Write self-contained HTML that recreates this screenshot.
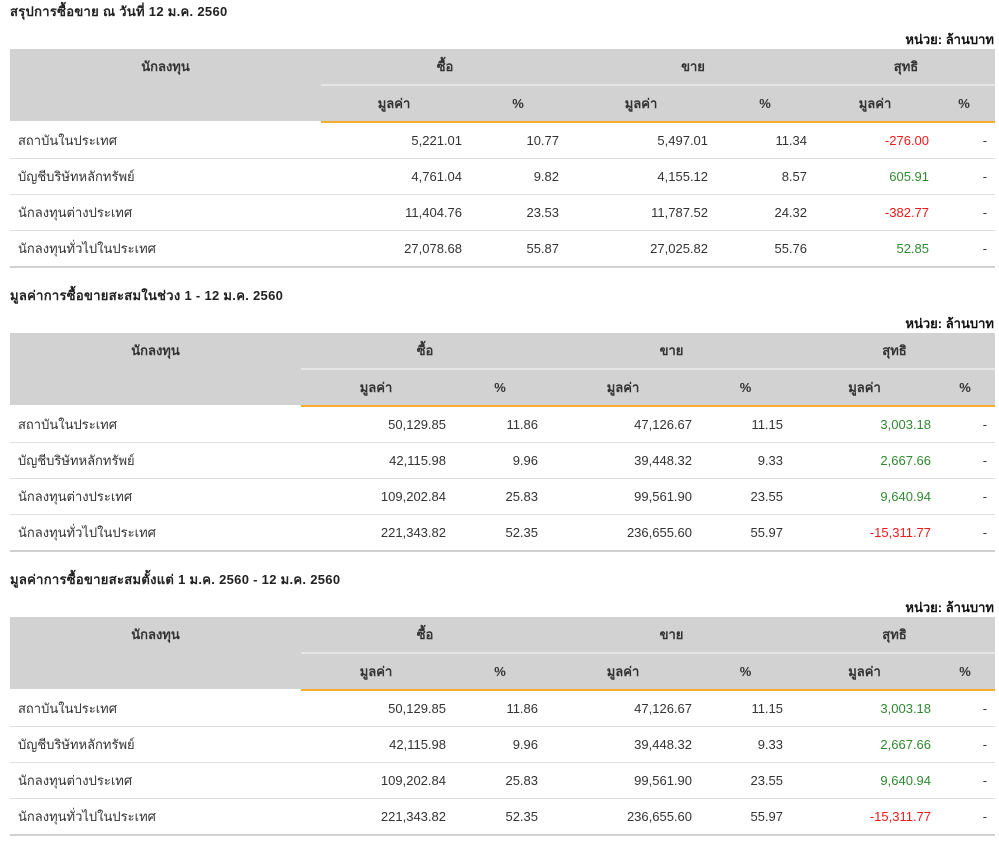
<!DOCTYPE html>
<html>
<head>
<meta charset="utf-8">
<style>
  html, body { margin:0; padding:0; background:#fff; }
  body { width:999px; height:845px; position:relative; overflow:hidden;
         font-family:"Liberation Sans","DejaVu Sans",sans-serif; font-size:13px; color:#333; }
  .sec { position:absolute; left:0; width:999px; height:284px; }
  .title { position:absolute; left:10px; top:3px; line-height:18px; font-weight:bold; font-size:13px; color:#222; letter-spacing:0.3px; }
  .unit { position:absolute; right:5px; top:31px; line-height:18px; font-weight:bold; font-size:13px; color:#111; }
  table { position:absolute; left:10px; top:49px; border-collapse:separate; border-spacing:0; table-layout:fixed; width:985px; }
  th, td { padding:0; margin:0; white-space:nowrap; overflow:hidden; }
  th { background:#d2d2d2; font-weight:bold; text-align:center; line-height:35px; color:#333; }
  th.inv { vertical-align:top; border-bottom:2px solid #fff; }
  tr.h2 th { border-top:2px solid #e6e6e6; border-bottom:2px solid #f6ad2b; }
  td { line-height:35px; border-bottom:1px solid #dedede; text-align:right; color:#333; }
  tr.last td { border-bottom:2px solid #d0d0d0; }
  td.name { text-align:left; padding-left:8px; }
  td.v { padding-right:5px; }
  td.p { padding-right:10px; }
  td.n { padding-right:4px; }
  td.d { padding-right:8px; }
  .t2 td.p { padding-right:11px; }
  .neg { color:#f01818; }
  .pos { color:#2f8a2f; }
</style>
</head>
<body>

<div class="sec" style="top:0px;">
  <div class="title">สรุปการซื้อขาย ณ วันที่ 12 ม.ค. 2560</div>
  <div class="unit">หน่วย: ล้านบาท</div>
  <table>
    <colgroup>
      <col style="width:311px"><col style="width:146px"><col style="width:102px"><col style="width:144px"><col style="width:104px"><col style="width:116px"><col style="width:62px">
    </colgroup>
    <tr><th class="inv" rowspan="2">นักลงทุน</th><th colspan="2">ซื้อ</th><th colspan="2">ขาย</th><th colspan="2">สุทธิ</th></tr>
    <tr class="h2"><th>มูลค่า</th><th>%</th><th>มูลค่า</th><th>%</th><th>มูลค่า</th><th>%</th></tr>
    <tr><td class="name">สถาบันในประเทศ</td><td class="v">5,221.01</td><td class="p">10.77</td><td class="v">5,497.01</td><td class="p">11.34</td><td class="n neg">-276.00</td><td class="d">-</td></tr>
    <tr><td class="name">บัญชีบริษัทหลักทรัพย์</td><td class="v">4,761.04</td><td class="p">9.82</td><td class="v">4,155.12</td><td class="p">8.57</td><td class="n pos">605.91</td><td class="d">-</td></tr>
    <tr><td class="name">นักลงทุนต่างประเทศ</td><td class="v">11,404.76</td><td class="p">23.53</td><td class="v">11,787.52</td><td class="p">24.32</td><td class="n neg">-382.77</td><td class="d">-</td></tr>
    <tr class="last"><td class="name">นักลงทุนทั่วไปในประเทศ</td><td class="v">27,078.68</td><td class="p">55.87</td><td class="v">27,025.82</td><td class="p">55.76</td><td class="n pos">52.85</td><td class="d">-</td></tr>
  </table>
</div>

<div class="sec" style="top:284px;">
  <div class="title">มูลค่าการซื้อขายสะสมในช่วง 1 - 12 ม.ค. 2560</div>
  <div class="unit">หน่วย: ล้านบาท</div>
  <table class="t2">
    <colgroup>
      <col style="width:291px"><col style="width:150px"><col style="width:98px"><col style="width:148px"><col style="width:97px"><col style="width:141px"><col style="width:60px">
    </colgroup>
    <tr><th class="inv" rowspan="2">นักลงทุน</th><th colspan="2">ซื้อ</th><th colspan="2">ขาย</th><th colspan="2">สุทธิ</th></tr>
    <tr class="h2"><th>มูลค่า</th><th>%</th><th>มูลค่า</th><th>%</th><th>มูลค่า</th><th>%</th></tr>
    <tr><td class="name">สถาบันในประเทศ</td><td class="v">50,129.85</td><td class="p">11.86</td><td class="v">47,126.67</td><td class="p">11.15</td><td class="n pos">3,003.18</td><td class="d">-</td></tr>
    <tr><td class="name">บัญชีบริษัทหลักทรัพย์</td><td class="v">42,115.98</td><td class="p">9.96</td><td class="v">39,448.32</td><td class="p">9.33</td><td class="n pos">2,667.66</td><td class="d">-</td></tr>
    <tr><td class="name">นักลงทุนต่างประเทศ</td><td class="v">109,202.84</td><td class="p">25.83</td><td class="v">99,561.90</td><td class="p">23.55</td><td class="n pos">9,640.94</td><td class="d">-</td></tr>
    <tr class="last"><td class="name">นักลงทุนทั่วไปในประเทศ</td><td class="v">221,343.82</td><td class="p">52.35</td><td class="v">236,655.60</td><td class="p">55.97</td><td class="n neg">-15,311.77</td><td class="d">-</td></tr>
  </table>
</div>

<div class="sec" style="top:568px;">
  <div class="title">มูลค่าการซื้อขายสะสมตั้งแต่ 1 ม.ค. 2560 - 12 ม.ค. 2560</div>
  <div class="unit">หน่วย: ล้านบาท</div>
  <table class="t2">
    <colgroup>
      <col style="width:291px"><col style="width:150px"><col style="width:98px"><col style="width:148px"><col style="width:97px"><col style="width:141px"><col style="width:60px">
    </colgroup>
    <tr><th class="inv" rowspan="2">นักลงทุน</th><th colspan="2">ซื้อ</th><th colspan="2">ขาย</th><th colspan="2">สุทธิ</th></tr>
    <tr class="h2"><th>มูลค่า</th><th>%</th><th>มูลค่า</th><th>%</th><th>มูลค่า</th><th>%</th></tr>
    <tr><td class="name">สถาบันในประเทศ</td><td class="v">50,129.85</td><td class="p">11.86</td><td class="v">47,126.67</td><td class="p">11.15</td><td class="n pos">3,003.18</td><td class="d">-</td></tr>
    <tr><td class="name">บัญชีบริษัทหลักทรัพย์</td><td class="v">42,115.98</td><td class="p">9.96</td><td class="v">39,448.32</td><td class="p">9.33</td><td class="n pos">2,667.66</td><td class="d">-</td></tr>
    <tr><td class="name">นักลงทุนต่างประเทศ</td><td class="v">109,202.84</td><td class="p">25.83</td><td class="v">99,561.90</td><td class="p">23.55</td><td class="n pos">9,640.94</td><td class="d">-</td></tr>
    <tr class="last"><td class="name">นักลงทุนทั่วไปในประเทศ</td><td class="v">221,343.82</td><td class="p">52.35</td><td class="v">236,655.60</td><td class="p">55.97</td><td class="n neg">-15,311.77</td><td class="d">-</td></tr>
  </table>
</div>

</body>
</html>
